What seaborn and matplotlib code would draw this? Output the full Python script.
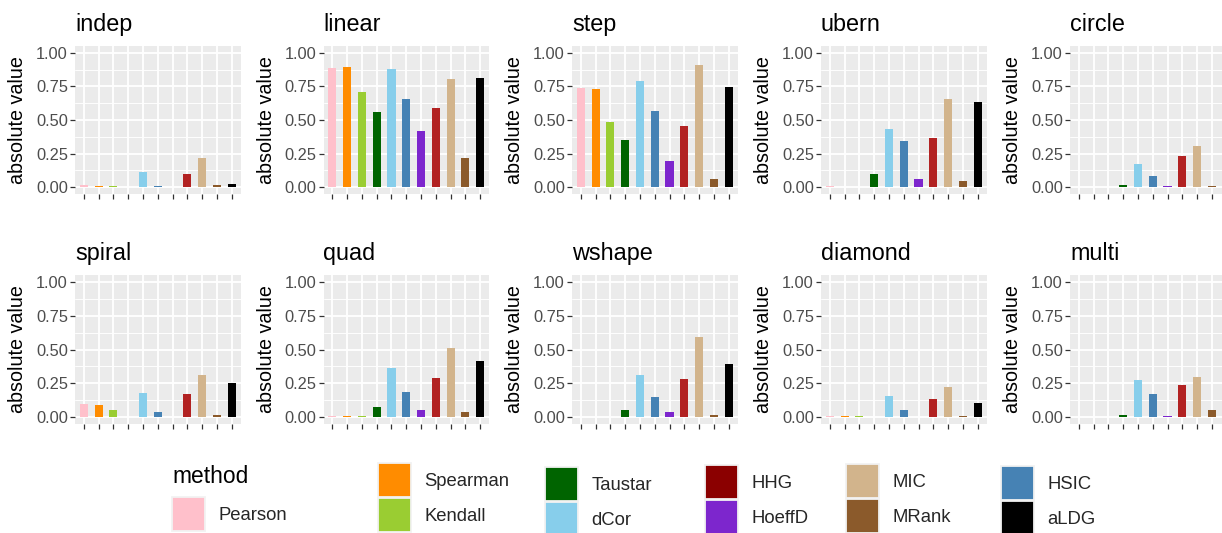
import matplotlib
matplotlib.use("Agg")
import matplotlib.pyplot as plt
from matplotlib.patches import Patch
from matplotlib.ticker import FixedLocator
import pandas as pd
import seaborn as sns

# ---- data -------------------------------------------------------------
methods = ["Pearson", "Spearman", "Kendall", "Taustar", "dCor", "HSIC",
           "HoeffD", "HHG", "MIC", "MRank", "aLDG"]
panels = ["indep", "linear", "step", "ubern", "circle",
          "spiral", "quad", "wshape", "diamond", "multi"]

indep   = [0.020, 0.012, 0.012, 0.005, 0.116, 0.012, 0.005, 0.096, 0.220, 0.020, 0.027]
linear  = [0.886, 0.894, 0.709, 0.558, 0.879, 0.657, 0.420, 0.590, 0.805, 0.220, 0.812]
step    = [0.738, 0.731, 0.486, 0.353, 0.790, 0.568, 0.198, 0.457, 0.909, 0.064, 0.746]
ubern   = [0.012, 0.005, 0.005, 0.096, 0.435, 0.346, 0.064, 0.368, 0.657, 0.049, 0.635]
circle  = [0.005, 0.005, 0.005, 0.020, 0.175, 0.086, 0.012, 0.235, 0.309, 0.012, 0.383]
spiral  = [0.094, 0.087, 0.057, 0.005, 0.176, 0.042, 0.005, 0.169, 0.310, 0.020, 0.251]
quad    = [0.012, 0.012, 0.012, 0.079, 0.362, 0.184, 0.050, 0.288, 0.511, 0.035, 0.414]
wshape  = [0.005, 0.005, 0.005, 0.057, 0.310, 0.146, 0.035, 0.280, 0.593, 0.020, 0.392]
diamond = [0.012, 0.012, 0.012, 0.005, 0.154, 0.050, 0.005, 0.132, 0.221, 0.012, 0.102]
multi   = [0.005, 0.005, 0.005, 0.020, 0.273, 0.169, 0.012, 0.236, 0.295, 0.050, 0.392]

panel_values = [indep, linear, step, ubern, circle,
                spiral, quad, wshape, diamond, multi]

bar_colors = {
    "Pearson": "#FFC0CB", "Spearman": "#FF8C00", "Kendall": "#9ACD32",
    "Taustar": "#006400", "dCor": "#87CEEB", "HSIC": "#4682B4",
    "HoeffD": "#7D26CD", "HHG": "#B22222", "MIC": "#D2B48C",
    "MRank": "#8B5A2B", "aLDG": "#000000",
}
legend_colors = dict(bar_colors, HHG="#8B0000")
legend_groups = [["Pearson"], ["Spearman", "Kendall"], ["Taustar", "dCor"],
                 ["HHG", "HoeffD"], ["MIC", "MRank"], ["HSIC", "aLDG"]]

df = pd.DataFrame(
    [(p, m, v) for p, vals in zip(panels, panel_values) for m, v in zip(methods, vals)],
    columns=["panel", "method", "value"],
)

# ---- style ------------------------------------------------------------
sns.set_theme(style="darkgrid")
plt.rcParams["font.family"] = ["Liberation Sans", "DejaVu Sans"]

W, H = 1222, 533
fig = plt.figure(figsize=(W / 100, H / 100), dpi=100)
fig.patch.set_facecolor("white")

col_left = [75, 323.5, 572, 821, 1070]
panel_w = 165.5
row_top = [46, 275]
panel_h = [148, 149]

for i, name in enumerate(panels):
    r, c = divmod(i, 5)
    ax = fig.add_axes([col_left[c] / W, 1 - (row_top[r] + panel_h[r]) / H,
                       panel_w / W, panel_h[r] / H])
    sub = df[df["panel"] == name]
    sns.barplot(data=sub, x="method", y="value", hue="method",
                order=methods, hue_order=methods, palette=bar_colors,
                width=0.55, saturation=1, errorbar=None, legend=False,
                linewidth=0, edgecolor="none", ax=ax)

    ax.set_facecolor("#EBEBEB")
    ax.set_xlim(-0.6, len(methods) - 0.4)
    ax.set_ylim(-0.05, 1.05)
    ax.set_yticks([0, 0.25, 0.5, 0.75, 1.0])
    ax.set_yticklabels(["0.00", "0.25", "0.50", "0.75", "1.00"])
    ax.yaxis.set_minor_locator(FixedLocator([0.125, 0.375, 0.625, 0.875]))
    ax.set_xticks(range(len(methods)))
    ax.tick_params(axis="x", labelbottom=False)
    ax.tick_params(which="major", length=3.6, width=0.9, color="#333333",
                   labelsize=11.8, labelcolor="#4D4D4D", pad=1.5,
                   bottom=True, left=True)
    ax.tick_params(which="minor", length=0)
    ax.grid(which="major", color="white", linewidth=1.3)
    ax.grid(which="minor", axis="y", color="white", linewidth=0.65)
    ax.set_axisbelow(True)
    for s in ax.spines.values():
        s.set_visible(False)

    ax.set_xlabel("")
    ax.set_ylabel("absolute value", fontsize=14.2, color="black")
    ax.yaxis.set_label_coords(-0.29, 0.5)
    ax.set_title(name, loc="left", fontsize=16.8, color="black", pad=10.5)

# ---- legend -----------------------------------------------------------
fig.text(172 / W, 1 - 483 / H, "method", fontsize=16.4, color="black",
         ha="left", va="baseline")

legend_anchor = [(172, 497), (378, 463), (545, 467), (705, 465), (846, 464), (1001, 466)]
for group, (lx, ly) in zip(legend_groups, legend_anchor):
    handles = [Patch(facecolor=legend_colors[m], edgecolor="#F2F2F2", linewidth=1.3)
               for m in group]
    fig.legend(handles, group, loc="upper left",
               bbox_to_anchor=(lx / W, 1 - ly / H),
               frameon=False, fontsize=13.3, borderpad=0, borderaxespad=0,
               handlelength=1.8, handleheight=2.455, handletextpad=0.7,
               labelspacing=0.05)

fig.savefig("out.png", dpi=100)
